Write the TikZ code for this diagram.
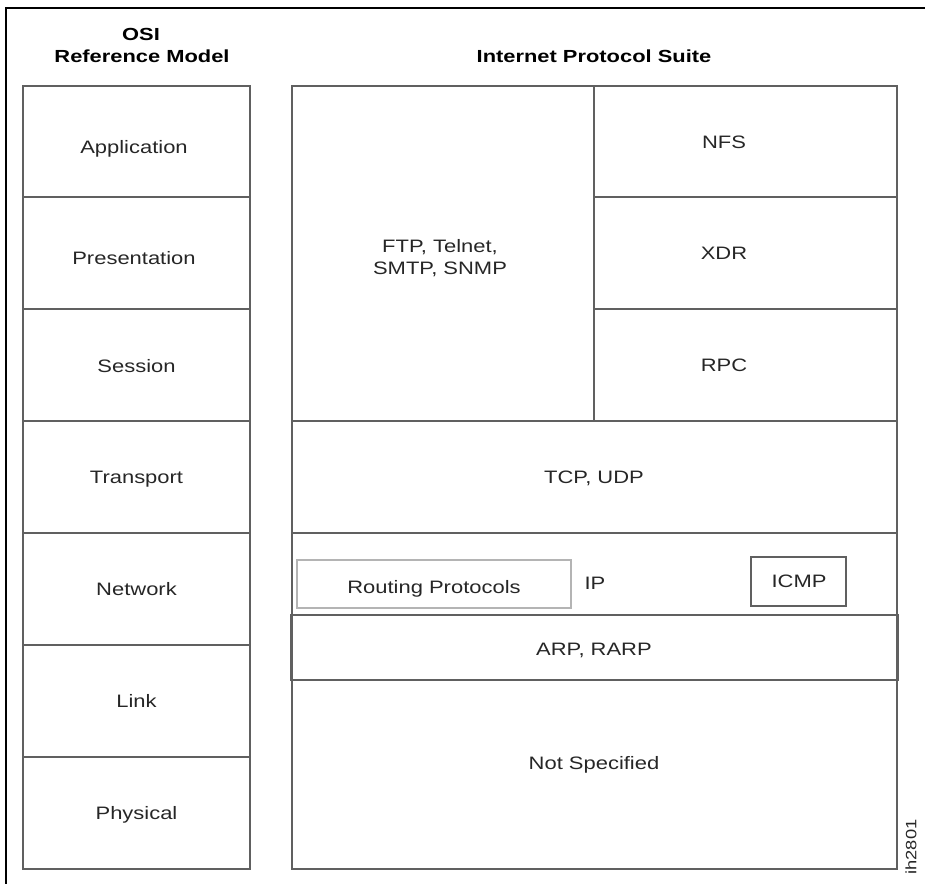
\documentclass[tikz,border=0pt]{standalone}
\usepackage{fontspec}
\setmainfont{Liberation Sans}
\newfontfamily\bodyfont[FakeStretch=1.22]{Liberation Sans}
\newfontfamily\headfont[FakeStretch=1.25]{Liberation Sans}
\definecolor{boxline}{HTML}{606060}
\definecolor{lightline}{HTML}{B4B4B4}
\definecolor{inkcol}{HTML}{262626}
\tikzset{
  frameline/.style={black, line width=2.2pt},
  layerbox/.style={draw=boxline, line width=1.6pt},
  softbox/.style={draw=lightline, line width=1.3pt},
  labeltxt/.style={font=\bodyfont\fontsize{18}{21.5}\selectfont, text=inkcol, inner sep=0pt, text height=12.9pt, text depth=0pt},
  multitxt/.style={font=\bodyfont\fontsize{18}{21.5}\selectfont, text=inkcol, inner sep=0pt, align=center},
  headtxt/.style={font=\headfont\bfseries\fontsize{17.5}{21}\selectfont, text=black, inner sep=0pt, anchor=base},
  tagtxt/.style={font=\bodyfont\fontsize{15}{17}\selectfont, text=inkcol, inner sep=0pt, rotate=90}
}
\begin{document}
\begin{tikzpicture}[x=1pt,y=-1pt]
\useasboundingbox (0,0) rectangle (925,883);
% outer frame (top and left edges only)
\draw[frameline] (6,884) -- (6,8) -- (926,8);

% headings
\node[headtxt] (osi) at (141,41) {OSI};
\node[headtxt] (refmodel) at (142,63) {Reference Model};
\node[headtxt] (ips) at (594,63) {Internet Protocol Suite};

% OSI column
\foreach \ya/\yb in {86/197,197/309,309/421,421/533,533/645,645/757,757/869}
  \draw[layerbox] (23,\ya) rectangle (250,\yb);
\node[labeltxt] (app)  at (134,147) {Application};
\node[labeltxt] (pres) at (134,258) {Presentation};
\node[labeltxt] (sess) at (136.5,366) {Session};
\node[labeltxt] (trans) at (136.5,477) {Transport};
\node[labeltxt] (net)  at (136.5,589) {Network};
\node[labeltxt] (link) at (136.5,701) {Link};
\node[labeltxt] (phys) at (136.5,813) {Physical};

% Internet protocol suite column
\draw[layerbox] (292,86) rectangle (897,869);
\draw[layerbox] (594,86) -- (594,421);
\draw[layerbox] (594,197) -- (897,197);
\draw[layerbox] (594,309) -- (897,309);
\draw[layerbox] (292,421) -- (897,421);
\draw[layerbox] (292,533) -- (897,533);
\draw[layerbox] (291,615) rectangle (898,680);

\node[multitxt] (ftp) at (440,258) {FTP, Telnet,\\SMTP, SNMP};
\node[labeltxt] (nfs) at (724,142) {NFS};
\node[labeltxt] (xdr) at (724,253) {XDR};
\node[labeltxt] (rpc) at (724,365) {RPC};
\node[labeltxt] (tcp) at (594,477) {TCP, UDP};

\draw[softbox] (297,560) rectangle (571,608);
\node[labeltxt] (routing) at (434,587) {Routing Protocols};
\node[labeltxt] (ip) at (595,583) {IP};
\draw[layerbox] (751,557) rectangle (846,606);
\node[labeltxt] (icmp) at (799,581) {ICMP};

\node[labeltxt] (arp) at (594,649) {ARP, RARP};
\node[labeltxt] (notspec) at (594,763) {Not Specified};

\node[tagtxt] (tag) at (911,847) {ih2801};
\end{tikzpicture}
\end{document}
